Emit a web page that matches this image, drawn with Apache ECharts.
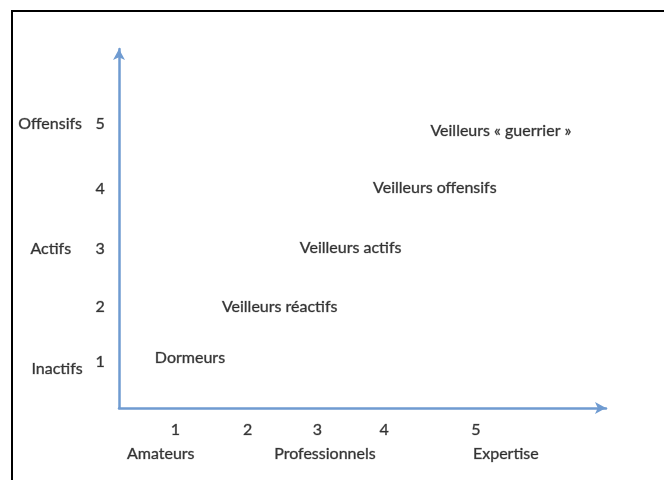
<!DOCTYPE html>
<html>
<head>
<meta charset="utf-8">
<script src="https://cdn.jsdelivr.net/npm/echarts@6/dist/echarts.min.js"></script>
<style>
html,body{margin:0;padding:0;background:#fff;}
#chart{width:664px;height:480px;}
</style>
</head>
<body>
<div id="chart"></div>
<script>
// Group labels placed in the plane (x = expertise, y = activity)
const groupNames = ['Dormeurs', 'Veilleurs réactifs', 'Veilleurs actifs', 'Veilleurs offensifs', 'Veilleurs « guerrier »'];
const groupX = [1.02, 2.31, 3.33, 4.54, 5.49];
const groupY = [0.84, 1.69, 2.67, 3.68, 4.63];

// X axis tick labels (read positions)
const xTickLabels = ['1', '2', '3', '4', '5'];
const xTickPos = [0.81, 1.85, 2.85, 3.81, 5.13];
const xTickY = -0.37;

// X axis category labels
const xCatLabels = ['Amateurs', 'Professionnels', 'Expertise'];
const xCatPos = [0.60, 2.96, 5.56];
const xCatY = -0.77;

// Y axis tick labels
const yTickLabels = ['1', '2', '3', '4', '5'];
const yTickPos = [0.77, 1.69, 2.66, 3.66, 4.75];
const yTickX = -0.27;

// Y axis category labels
const yCatLabels = ['Inactifs', 'Actifs', 'Offensifs'];
const yCatPos = [0.65, 2.66, 4.75];
const yCatX = [-0.89, -0.98, -0.99];

const FONT = 'Lato';
const TXT = '#0a0a0a';
const AXIS = '#6f9bd1';

function textSeries(name, xs, ys, labels, size) {
  return {
    name: name,
    type: 'scatter',
    clip: false,
    symbolSize: 0,
    silent: true,
    data: labels.map((l, i) => ({
      value: [Array.isArray(xs) ? xs[i] : xs, Array.isArray(ys) ? ys[i] : ys],
      name: l
    })),
    label: {
      show: true,
      position: 'inside',
      formatter: p => p.name,
      fontFamily: FONT,
      fontSize: size,
      color: TXT,
      textBorderColor: 'rgba(10,10,10,0.5)',
      textBorderWidth: 0.7,
      align: 'center',
      verticalAlign: 'middle'
    }
  };
}

const chart = echarts.init(document.getElementById('chart'), null, {renderer: 'canvas'});
chart.setOption({
  backgroundColor: '#fff',
  animation: false,
  grid: {left: 119, right: 58, top: 49, bottom: 72},
  xAxis: {
    type: 'value', min: 0, max: 7,
    axisLine: {show: true, lineStyle: {color: AXIS, width: 2.5}, symbol: ['none', 'arrow'], symbolSize: [9, 11]},
    axisTick: {show: false}, axisLabel: {show: false}, splitLine: {show: false}
  },
  yAxis: {
    type: 'value', min: 0, max: 6,
    axisLine: {show: true, lineStyle: {color: AXIS, width: 2.5}, symbol: ['none', 'arrow'], symbolSize: [9, 11]},
    axisTick: {show: false}, axisLabel: {show: false}, splitLine: {show: false}
  },
  graphic: [
    {type: 'line', shape: {x1: 11, y1: 11, x2: 664, y2: 11}, style: {stroke: '#000', lineWidth: 2}},
    {type: 'line', shape: {x1: 12, y1: 10, x2: 12, y2: 480}, style: {stroke: '#000', lineWidth: 2}}
  ],
  series: [
    textSeries('groups', groupX, groupY, groupNames, 16),
    textSeries('xTicks', xTickPos, xTickY, xTickLabels, 16),
    textSeries('xCats', xCatPos, xCatY, xCatLabels, 16),
    textSeries('yTicks', yTickX, yTickPos, yTickLabels, 16),
    textSeries('yCats', yCatX, yCatPos, yCatLabels, 16)
  ]
});
</script>
</body>
</html>
